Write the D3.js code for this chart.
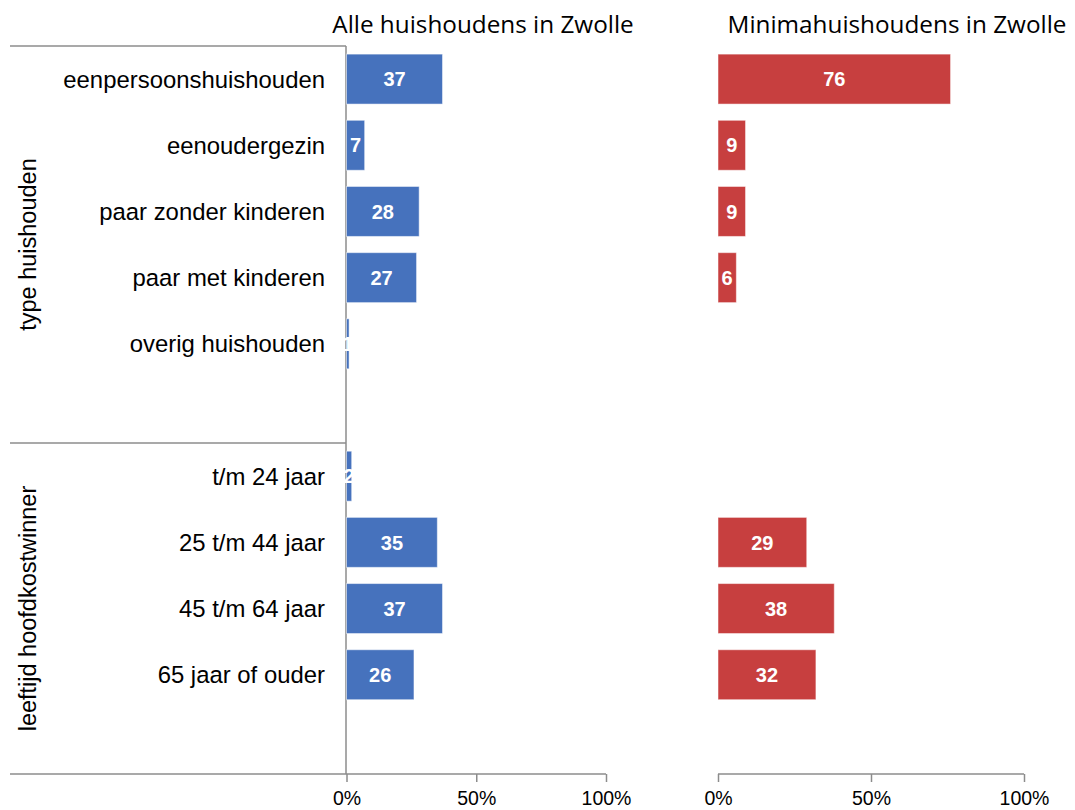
<!DOCTYPE html>
<html>
<head>
<meta charset="utf-8">
<script src="https://cdn.jsdelivr.net/npm/d3@7"></script>
<style>
  body { margin: 0; background: #fff; }
  svg { display: block; }
</style>
</head>
<body>
<div id="chart"></div>
<script>
// categories, incl. two empty rows that Excel leaves between the groups
const categories = ["eenpersoonshuishouden", "eenoudergezin", "paar zonder kinderen", "paar met kinderen",
  "overig huishouden", "_gap1", "t/m 24 jaar", "25 t/m 44 jaar", "45 t/m 64 jaar", "65 jaar of ouder", "_gap2"];
const alleValues = [37, 7, 28, 27, 1, null, 2, 35, 37, 26, null];
const minimaValues = [76, 9, 9, 6, null, null, null, 29, 38, 32, null];
const groupLabels = ["type huishouden", "leeftijd hoofdkostwinner"];
const groupFirst = ["eenpersoonshuishouden", "t/m 24 jaar"];
const groupLast = ["_gap1", "_gap2"];
const tickValues = [0, 50, 100];
const panelTitles = ["Alle huishoudens in Zwolle", "Minimahuishoudens in Zwolle"];

const W = 1075, H = 810;
const yTop = 46, yBottom = 774;
const lineColor = "#8c8c8c";
const labelFont = "'Liberation Sans', Arial, sans-serif";

const svg = d3.select("#chart").append("svg")
  .attr("width", W)
  .attr("height", H);

const y = d3.scaleBand()
  .domain(categories)
  .range([yTop, yBottom])
  .paddingInner(0.245)
  .paddingOuter(0.1225);

const gapHalf = (y.step() - y.bandwidth()) / 2;

// left vertical category axis (drawn first, the data labels sit on top of it)
const x0 = 346;
svg.append("line")
  .attr("x1", x0).attr("x2", x0)
  .attr("y1", yTop).attr("y2", yBottom)
  .attr("stroke", lineColor).attr("stroke-width", 1.5);

const panels = [
  { title: panelTitles[0], values: alleValues, color: "#4672BD", range: [346.5, 606], titleX: 483 },
  { title: panelTitles[1], values: minimaValues, color: "#C73F3F", range: [718, 1024], titleX: 897 }
];

panels.forEach((p, pi) => {
  const x = d3.scaleLinear().domain([0, 100]).range(p.range);
  const rows = categories.map((c, i) => ({ cat: c, value: p.values[i] }))
    .filter(d => d.value != null);

  // title
  svg.append("text")
    .attr("x", p.titleX)
    .attr("y", 33)
    .attr("text-anchor", "middle")
    .style("font-family", "'Open Sans', sans-serif")
    .style("font-size", "24.3px")
    .style("fill", "#000")
    .text(p.title);

  // bars
  svg.append("g").selectAll("rect")
    .data(rows)
    .enter().append("rect")
    .attr("x", x(0))
    .attr("y", d => y(d.cat))
    .attr("width", d => x(d.value) - x(0))
    .attr("height", y.bandwidth())
    .style("fill", p.color)
    .style("stroke", "#ffffff")
    .style("stroke-opacity", 0.5)
    .style("stroke-width", 1);

  // x axis
  const axis = svg.append("g")
    .attr("transform", `translate(0,${yBottom})`)
    .call(d3.axisBottom(x)
      .tickValues(tickValues)
      .tickSize(8)
      .tickPadding(9)
      .tickFormat(d => d + "%"));
  axis.select(".domain").remove();
  axis.selectAll(".tick line").attr("stroke", lineColor).attr("stroke-width", 1.5);
  axis.selectAll(".tick text")
    .style("font-family", labelFont)
    .style("font-size", "19.5px")
    .style("fill", "#000");

  svg.append("line")
    .attr("x1", pi === 0 ? 10 : x(0))
    .attr("x2", x(100))
    .attr("y1", yBottom).attr("y2", yBottom)
    .attr("stroke", lineColor).attr("stroke-width", 1.5);

  // value labels
  svg.append("g").selectAll("text")
    .data(rows)
    .enter().append("text")
    .attr("x", d => (x(0) + x(d.value)) / 2)
    .attr("y", d => y(d.cat) + y.bandwidth() / 2)
    .attr("dy", "0.36em")
    .attr("text-anchor", "middle")
    .style("font-family", labelFont)
    .style("font-weight", "bold")
    .style("font-size", "20px")
    .style("fill", "#fff")
    .text(d => d.value);
});

// group separators and rotated group labels
groupLabels.forEach((g, i) => {
  const y1 = y(groupFirst[i]) - gapHalf;
  const y2 = y(groupLast[i]) + y.bandwidth() + gapHalf;
  svg.append("line")
    .attr("x1", 10).attr("x2", x0)
    .attr("y1", y1).attr("y2", y1)
    .attr("stroke", lineColor).attr("stroke-width", 1.5);
  svg.append("text")
    .attr("transform", `translate(28,${(y1 + y2) / 2}) rotate(-90)`)
    .attr("dy", "0.36em")
    .attr("text-anchor", "middle")
    .style("font-family", labelFont)
    .style("font-size", "23.5px")
    .style("fill", "#000")
    .text(g);
});

// category labels
svg.append("g").selectAll("text")
  .data(categories.filter(c => !c.startsWith("_")))
  .enter().append("text")
  .attr("x", 325)
  .attr("y", d => y(d) + y.bandwidth() / 2)
  .attr("dy", "0.36em")
  .attr("text-anchor", "end")
  .style("font-family", labelFont)
  .style("font-size", "23.9px")
  .style("fill", "#000")
  .text(d => d);
</script>
</body>
</html>
